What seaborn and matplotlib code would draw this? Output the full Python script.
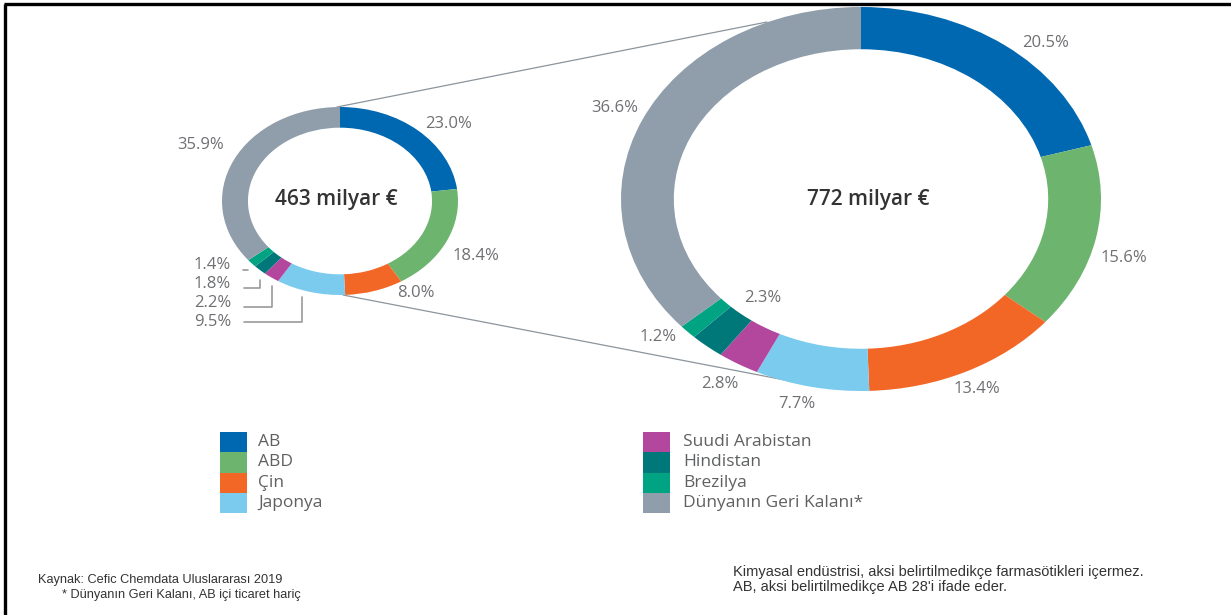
import matplotlib.pyplot as plt
import seaborn as sns
from matplotlib.patches import Rectangle

sns.set_theme(style='white')
plt.rcParams['font.family'] = ['Open Sans', 'DejaVu Sans']

W, H = 1231, 615

# data
regions = ['AB', 'ABD', 'Çin', 'Japonya', 'Suudi Arabistan', 'Hindistan',
           'Brezilya', 'Dünyanın Geri Kalanı*']
share_small = [23.0, 18.4, 8.0, 9.5, 2.2, 1.8, 1.4, 35.9]
share_big = [20.5, 15.6, 13.4, 7.7, 2.8, 2.3, 1.2, 36.6]
totals = ['463 milyar €', '772 milyar €']
palette = sns.color_palette(['#0067b1', '#6db46f', '#f26726', '#7acbee',
                             '#b3479e', '#00787a', '#00a482', '#8f9eaa'])

txt_grey = '#6f7073'

fig = plt.figure(figsize=(W / 100, H / 100), dpi=100)
over = fig.add_axes([0, 0, 1, 1])
over.set_xlim(0, W)
over.set_ylim(H, 0)
over.axis('off')


def donut(cx, cy, hw, hh, values):
    ax = fig.add_axes([(cx - hw) / W, 1 - (cy + hh) / H, 2 * hw / W, 2 * hh / H])
    ax.pie(values, colors=palette, startangle=90, counterclock=False, radius=1,
           wedgeprops=dict(width=0.22, linewidth=0))
    ax.set_aspect('auto')
    ax.set_xlim(-1, 1)
    ax.set_ylim(-1, 1)
    ax.axis('off')
    return ax


# donuts (the reference is stretched horizontally, so ellipses)
donut(340, 201, 118, 94, share_small)
donut(861, 199, 240, 192, share_big)

over.text(336, 199, totals[0], ha='center', va='center', fontsize=15,
          fontweight='semibold', color='#333333')
over.text(868, 200, totals[1], ha='center', va='center', fontsize=15,
          fontweight='semibold', color='#333333')

# connecting lines between donuts
over.plot([337, 767], [107, 22], color='#8c959d', lw=0.9)
over.plot([343, 790], [295, 381], color='#8c959d', lw=0.9)

# labels on the small donut
small_pos = [(449, 124), (476, 256), (416, 293), None, None, None, None, (201, 145)]
for v, p in zip(share_small, small_pos):
    if p is not None:
        over.text(p[0], p[1], f'{v:.1f}%', ha='center', va='center',
                  fontsize=12, color=txt_grey)

# stacked labels with leader lines for the small slices
stack_order = [6, 5, 4, 3]          # Brezilya, Hindistan, Suudi, Japonya
stack_y = [265, 284, 303, 322]
leaders = [([243, 248], [270, 270]),
           ([244, 260, 260], [288, 288, 280]),
           ([244, 272, 272], [307, 307, 286]),
           ([244, 302, 302], [322, 322, 297])]
for i, y, (lx, ly) in zip(stack_order, stack_y, leaders):
    over.text(231, y, f'{share_small[i]:.1f}%', ha='right', va='center',
              fontsize=12, color=txt_grey)
    over.plot(lx, ly, color='#9a9a9a', lw=1.2)

# labels on the big donut
big_pos = [(1046, 43), (1124, 258), (977, 389), (797, 404), (720, 384),
           (763, 298), (658, 337), (615, 108)]
for v, p in zip(share_big, big_pos):
    over.text(p[0], p[1], f'{v:.1f}%', ha='center', va='center',
              fontsize=12, color=txt_grey)

# legend: two columns of stacked colour blocks
cols = [(220, 258, range(0, 4)), (643, 683, range(4, 8))]
for sx, tx, idx in cols:
    for row, i in enumerate(idx):
        top = 432 + row * 20.3
        over.add_patch(Rectangle((sx, top), 27, 20.3, color=palette[i], lw=0))
        over.text(tx, top + 10, regions[i], ha='left', va='center',
                  fontsize=12.5, color='#5f6062')

# footnotes
narrow = ['Liberation Sans', 'DejaVu Sans']
over.text(38, 580, 'Kaynak: Cefic Chemdata Uluslararası 2019', ha='left',
          va='center', fontsize=9.2, color='#333333', family=narrow)
over.text(62, 595, '* Dünyanın Geri Kalanı, AB içi ticaret hariç', ha='left',
          va='center', fontsize=9.2, color='#333333', family=narrow)
over.text(733, 572, 'Kimyasal endüstrisi, aksi belirtilmedikçe farmasötikleri içermez.',
          ha='left', va='center', fontsize=10.5, color='#333333', family=narrow)
over.text(733, 587, "AB, aksi belirtilmedikçe AB 28'i ifade eder.",
          ha='left', va='center', fontsize=10.5, color='#333333', family=narrow)

# frame on top and left edge
over.plot([5, 5], [H, 4], color='black', lw=2.4, solid_capstyle='butt')
over.plot([4, W], [4, 4], color='black', lw=2.4, solid_capstyle='butt')

fig.savefig('out.png', dpi=100)
